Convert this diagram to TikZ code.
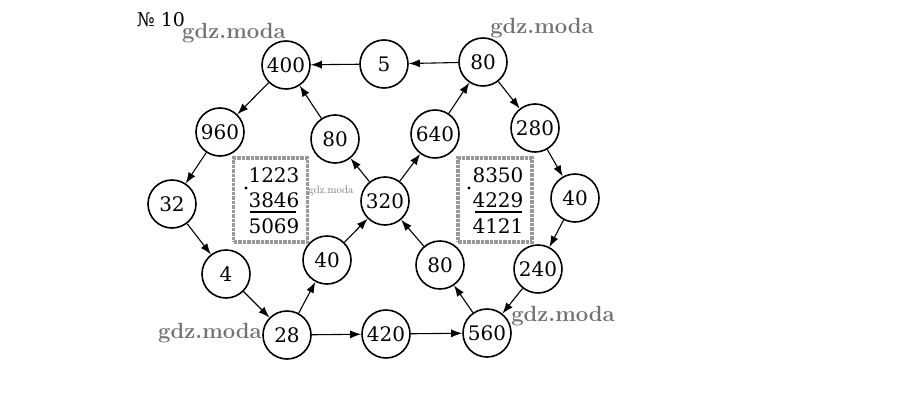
\documentclass[tikz,border=0pt]{standalone}
\usepackage{fontspec}
\newfontfamily\numfont{DejaVu Serif}
\usetikzlibrary{arrows.meta}
\begin{document}
\begin{tikzpicture}[x=1pt,y=-1pt,
  num/.style={circle,draw,line width=1.6pt,minimum size=48pt,inner sep=0pt,font=\numfont\fontsize{20}{20}\selectfont},
  arr/.style={line width=1.1pt,-{Latex[length=11pt,width=8pt]}},
  wm/.style={text=black!55,font=\fontsize{22}{22}\selectfont\bfseries},
  boxnum/.style={font=\numfont\fontsize{20}{20}\selectfont},
  calcbox/.style={draw=black!40,line width=3.5pt,densely dotted}]
\useasboundingbox[fill=white] (0,0) rectangle (912,415);
% nodes
\node[num] (n400) at (286,65) {400};
\node[num] (n5) at (384,64) {5};
\node[num] (n80a) at (483,62) {80};
\node[num] (n960) at (220,132) {960};
\node[num] (n80b) at (335,139) {80};
\node[num] (n640) at (435,134) {640};
\node[num] (n280) at (535,128) {280};
\node[num] (n32) at (172,204) {32};
\node[num] (n320) at (385,201) {320};
\node[num] (n40r) at (575,198) {40};
\node[num] (n4) at (226,274) {4};
\node[num] (n40l) at (327,260) {40};
\node[num] (n80c) at (440,265) {80};
\node[num] (n240) at (538,269) {240};
\node[num] (n28) at (287,335) {28};
\node[num] (n420) at (386,334) {420};
\node[num] (n560) at (487,333) {560};
% connectors
\draw[arr] (n5) -- (n400);
\draw[arr] (n80a) -- (n5);
\draw[arr] (n400) -- (n960);
\draw[arr] (n960) -- (n32);
\draw[arr] (n32) -- (n4);
\draw[arr] (n4) -- (n28);
\draw[arr] (n28) -- (n40l);
\draw[arr] (n40l) -- (n320);
\draw[arr] (n320) -- (n80b);
\draw[arr] (n80b) -- (n400);
\draw[arr] (n28) -- (n420);
\draw[arr] (n420) -- (n560);
\draw[arr] (n560) -- (n80c);
\draw[arr] (n80c) -- (n320);
\draw[arr] (n320) -- (n640);
\draw[arr] (n640) -- (n80a);
\draw[arr] (n80a) -- (n280);
\draw[arr] (n280) -- (n40r);
\draw[arr] (n40r) -- (n240);
\draw[arr] (n240) -- (n560);
% calculation boxes
\node[calcbox,minimum width=74pt,minimum height=84pt] (boxl) at (270.5,200) {};
\node[boxnum] (l1) at (274,175) {1223};
\node[boxnum] (l2) at (274,200) {3846};
\node[boxnum] (l3) at (274,226) {5069};
\draw[line width=1.2pt] (250,212) -- (296,212);
\fill (246,188) circle (1.6pt);
\node[calcbox,minimum width=74pt,minimum height=84pt] (boxr) at (495,200) {};
\node[boxnum] (r1) at (498,175) {8350};
\node[boxnum] (r2) at (498,200) {4229};
\node[boxnum] (r3) at (498,226) {4121};
\draw[line width=1.2pt] (475,212) -- (522,212);
\fill (469,188) circle (1.6pt);
% title and watermarks
\node[font=\numfont\fontsize{19}{19}\selectfont] (title) at (161,20) {№ 10};
\node[wm] (w1) at (234,33) {gdz.moda};
\node[wm] (w2) at (542,28) {gdz.moda};
\node[wm] (w3) at (210,333) {gdz.moda};
\node[wm] (w4) at (563,316) {gdz.moda};
\node[wm,font=\fontsize{11}{11}\selectfont] (w5) at (331,191) {gdz.moda};
\end{tikzpicture}
\end{document}
